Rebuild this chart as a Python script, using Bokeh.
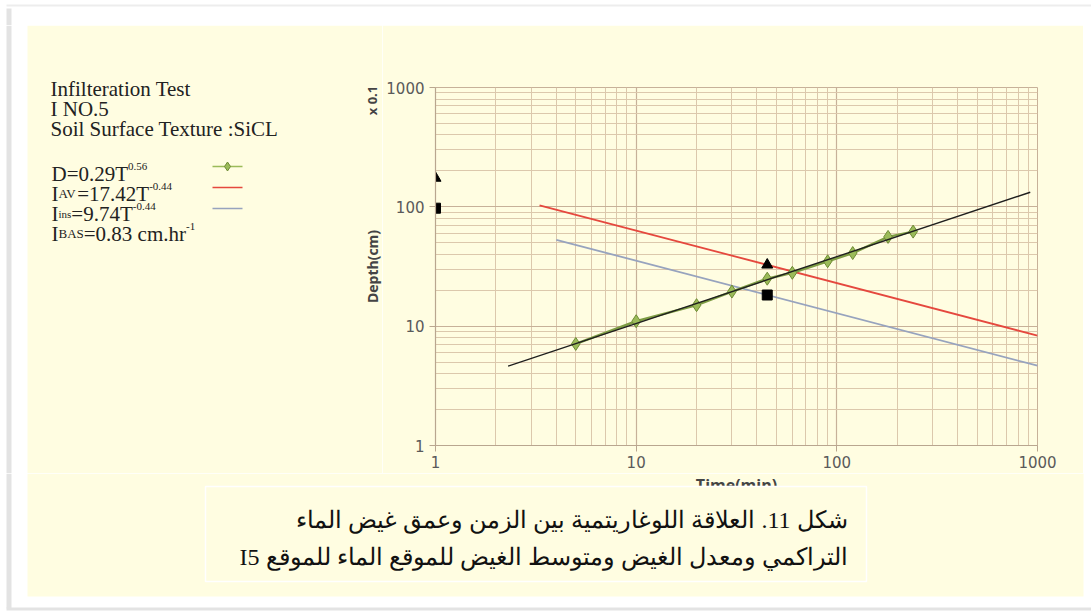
import math

from bokeh.core.properties import value
from bokeh.embed import file_html
from bokeh.layouts import column, row
from bokeh.models import BasicTickFormatter, FixedTicker, Range1d
from bokeh.plotting import figure
from bokeh.resources import INLINE

# ---- infiltration record, site I5 (cumulative depth, plotted x10; axis reads "x 0.1")
time_min = [5, 10, 20, 30, 45, 60, 90, 120, 180, 240]
depth = [7.1, 11, 15, 19.5, 25, 28, 35, 41, 56, 62]

# fitted power laws  value = a * T**b
d_a, d_b = 0.29, 0.56
iav_a, iav_b = 17.42, -0.44
iins_a, iins_b = 9.74, -0.44
i_bas = 0.83
plot_scale = 10

# time spans over which each fitted curve is drawn
d_fit_t = [2.3, 920]
iav_fit_t = [3.3, 1000]
iins_fit_t = [4.0, 1000]

# times at which the rate curves are marked
rate_marker_t = [1, 45]

axis_ticks = [1, 10, 100, 1000]
axis_minor_ticks = [k * 10 ** e for e in range(3) for k in range(2, 10)]

header_lines = ["Infilteration Test", "I NO.5", "Soil Surface Texture :SiCL"]
x_title = "Time(min)"
y_title = "Depth(cm)"
y_multiplier = "x 0.1"
caption_lines = [
    "شكل 11. العلاقة اللوغاريتمية بين الزمن وعمق غيض الماء",
    "التراكمي ومعدل الغيض ومتوسط الغيض للموقع الماء للموقع I5",
]


def power_law(a, b, ts):
    return [a * plot_scale * t ** b for t in ts]


# ---- colours
CREAM = "#FFFDE1"
SHADOW = "#E3E3E3"
GRID_MAJOR = "#C7B199"
GRID_MINOR = "#DCC8AC"
AXIS = "#B9A68F"
GREEN = "#9BBB59"
GREEN_DARK = "#6E8B35"
GREEN_LINE = "#7E9C44"
RED = "#E5483E"
BLUE = "#97A3BE"
TEXT = "#222222"
SERIF = value("Liberation Serif")
SANS_BOLD = value("Open Sans")

# ---- page geometry (pixels): panel, chart frame and the strips around it
W, H = 1091, 611
PANEL_L, PANEL_T, PANEL_R, PANEL_B = 27, 25, 1083, 596
FL, FR, FT, FB = 435, 1037, 87, 445
SPLIT_X = 382          # left text column | chart
SPLIT_Y = 473          # chart | caption strip


def detach(fig):
    # keep each surface at its own size instead of lining frames up in the layout
    if "frame_align" in fig.properties():
        fig.frame_align = False
    return fig


def sheet(x0, x1, y0, y1):
    """A plain drawing surface whose data units are page pixels (y downwards)."""
    s = figure(width=x1 - x0, height=y1 - y0, x_range=Range1d(x0, x1),
               y_range=Range1d(y1, y0), x_axis_location=None, y_axis_location=None,
               output_backend="svg", toolbar_location=None, title=None,
               min_border=0, outline_line_color=None)
    s.background_fill_color = "white"
    s.border_fill_color = "white"
    s.grid.visible = False
    return detach(s)


def panel_fill(s, x0, x1, y0, y1):
    s.quad(left=max(x0, PANEL_L), right=min(x1, PANEL_R), top=max(y0, PANEL_T),
           bottom=min(y1, PANEL_B), fill_color=CREAM, line_color=None)


def left_shadow(s, y0, y1):
    s.quad(left=6, right=11, top=y0, bottom=y1, fill_color=SHADOW, line_color=None)


# ---- top strip
top = sheet(0, W, 0, PANEL_T)
top.quad(left=6, right=W, top=4, bottom=6, fill_color="#EDEDED", line_color=None)
left_shadow(top, 8, PANEL_T)

# ---- left text column
left = sheet(0, SPLIT_X, PANEL_T, SPLIT_Y)
panel_fill(left, 0, SPLIT_X, PANEL_T, SPLIT_Y)
left_shadow(left, PANEL_T, SPLIT_Y)

for i, line in enumerate(header_lines):
    left.text(x=[50], y=[88 + 20 * i], text=[line], text_font=SERIF,
              text_font_size="21px", text_color=TEXT, text_baseline="alphabetic")

# Times metrics, to run the formula pieces on after each other
TIMES = {" ": 250, ".": 250, "-": 333, "=": 564, ":": 278, "A": 722, "B": 667,
         "C": 667, "D": 722, "I": 333, "L": 611, "N": 722, "O": 722, "S": 556,
         "T": 611, "V": 722, "a": 444, "c": 444, "e": 444, "f": 333, "h": 500,
         "i": 278, "l": 278, "m": 778, "n": 500, "o": 500, "r": 333, "s": 389,
         "t": 278, "u": 500, "x": 500}
SIZES = {"main": 21, "sub": 13, "tiny": 11, "sup": 11}


def text_width(s, size):
    return sum(TIMES.get(ch, 500) for ch in s) * size / 1000.0


def formula(parts, x, baseline):
    for txt, kind in parts:
        size = SIZES[kind]
        rise = 7 if kind == "sup" else 0
        left.text(x=[x], y=[baseline - rise], text=[txt], text_font=SERIF,
                  text_font_size=f"{size}px", text_color=TEXT,
                  text_baseline="alphabetic", text_align="left")
        x += text_width(txt, size)


formula([(f"D={d_a}T", "main"), (f"{d_b}", "sup")], 51, 173)
formula([("I", "main"), ("AV", "sub"), (f"={iav_a}T", "main"), (f"{iav_b}", "sup")], 51, 193)
formula([("I", "main"), ("ins", "tiny"), (f"={iins_a}T", "main"), (f"{iins_b}", "sup")], 51, 213)
formula([("I", "main"), ("BAS", "sub"), (f"={i_bas} cm.hr", "main"), ("-1", "sup")], 51, 233)

# legend keys beside the formulas
key_x = [212, 242]
left.line(key_x, [166, 166], line_color=GREEN, line_width=1.5)
left.scatter([227], [166], marker="diamond", size=9, fill_color=GREEN, line_color=GREEN_DARK)
left.line(key_x, [187, 187], line_color=RED, line_width=1.5)
left.line(key_x, [208, 208], line_color=BLUE, line_width=1.5)

# vertical axis title and its multiplier
left.text(x=[372], y=[266], text=[y_title], angle=math.pi / 2, text_font=SANS_BOLD,
          text_font_style="bold", text_font_size="14px", text_color="#444444",
          text_align="center", text_baseline="middle")
left.text(x=[371], y=[100], text=[y_multiplier], angle=math.pi / 2, text_font=SANS_BOLD,
          text_font_style="bold", text_font_size="13px", text_color="#444444",
          text_align="center", text_baseline="middle")

# ---- chart
p = figure(width=PANEL_R - SPLIT_X, height=SPLIT_Y - PANEL_T,
           x_axis_type="log", y_axis_type="log",
           x_range=Range1d(1, 1000), y_range=Range1d(1, 1000),
           output_backend="svg", toolbar_location=None, title=None,
           min_border_left=FL - SPLIT_X, min_border_right=PANEL_R - FR,
           min_border_top=FT - PANEL_T, min_border_bottom=SPLIT_Y - FB)
detach(p)
p.border_fill_color = CREAM
p.background_fill_color = CREAM
p.outline_line_color = GRID_MAJOR

for ax in (p.xaxis[0], p.yaxis[0]):
    ax.ticker = FixedTicker(ticks=axis_ticks, minor_ticks=axis_minor_ticks)
    ax.formatter = BasicTickFormatter()
    ax.axis_line_color = AXIS
    ax.axis_line_width = 1.2
    ax.major_tick_line_color = AXIS
    ax.major_tick_out = 6
    ax.major_tick_in = 0
    ax.minor_tick_out = 0
    ax.minor_tick_in = 0
    ax.major_label_text_font = "DejaVu Sans"
    ax.major_label_text_font_size = "15px"
    ax.major_label_text_color = "#5A5A5A"
p.xaxis.major_label_standoff = 4
p.yaxis.major_label_standoff = 5

p.grid.grid_line_color = GRID_MAJOR
p.grid.grid_line_width = 1.2
p.grid.minor_grid_line_color = GRID_MINOR
p.grid.minor_grid_line_width = 1

p.line(iins_fit_t, power_law(iins_a, iins_b, iins_fit_t), line_color=BLUE, line_width=1.8)
p.line(iav_fit_t, power_law(iav_a, iav_b, iav_fit_t), line_color=RED, line_width=1.8)
p.line(time_min, depth, line_color=GREEN_LINE, line_width=2.5)
p.scatter(time_min, depth, marker="diamond", size=13,
          fill_color=GREEN, line_color=GREEN_DARK, line_width=1)
p.line(d_fit_t, power_law(d_a, d_b, d_fit_t), line_color="#1E1E1E", line_width=1.4)

p.scatter(rate_marker_t, power_law(iav_a, iav_b, rate_marker_t), marker="triangle",
          size=11, fill_color="black", line_color="black")
p.scatter(rate_marker_t, power_law(iins_a, iins_b, rate_marker_t), marker="square",
          size=10, fill_color="black", line_color="black")

# ---- right strip
right = sheet(PANEL_R, W, PANEL_T, SPLIT_Y)

# ---- caption strip
bottom = sheet(0, W, SPLIT_Y, H)
panel_fill(bottom, 0, W, SPLIT_Y, H)
left_shadow(bottom, SPLIT_Y, 608)
bottom.quad(left=6, right=W, top=607, bottom=610, fill_color=SHADOW, line_color=None)

bottom.text(x=[(FL + FR) / 2], y=[SPLIT_Y], text=[x_title], text_font=SANS_BOLD,
            text_font_style="bold", text_font_size="16px", text_color="#444444",
            text_align="center", text_baseline="top")

bottom.quad(left=205, right=866, top=486, bottom=581, fill_color=CREAM,
            line_color="white", line_width=1.5)
for i, line in enumerate(caption_lines):
    bottom.text(x=[847], y=[519 + 37 * i], text=["\u202b" + line + "\u202c"],
                text_font=SERIF, text_font_size="24px", text_color="#111111",
                text_align="right", text_baseline="alphabetic")

layout = column(top, row(left, p, right), bottom)
open("out.html", "w").write(file_html(layout, INLINE))
